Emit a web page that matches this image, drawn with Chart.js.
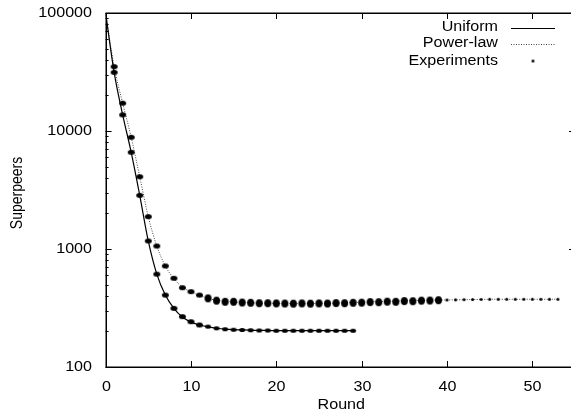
<!DOCTYPE html>
<html><head><meta charset="utf-8">
<script src="https://cdn.jsdelivr.net/npm/chart.js@4.4.1/dist/chart.umd.min.js"></script>
<style>html,body{margin:0;padding:0;overflow:hidden;background:#fff}#wrap{width:580px;height:416px;position:relative}</style>
</head><body><div id="wrap"><canvas id="c" width="580" height="416"></canvas></div>
<script>
// ---- data ----
const xTicks = [0, 10, 20, 30, 40, 50];
const yTicks = [100, 1000, 10000, 100000];
const seriesNames = ['Uniform', 'Power-law', 'Experiments'];
const xTitle = 'Round';
const yTitle = 'Superpeers';

// theoretical curves, rounds 0..N
const uniformModel = [100000, 31400, 13700, 6600, 2850, 1170, 612, 407, 314, 265, 240, 227, 219, 213, 209, 207, 206, 205, 204, 204, 203, 203, 203, 203, 203, 203, 203, 203, 203, 203];
const powerModel = [100000, 35100, 17200, 8850, 4100, 1880, 1059, 718, 560, 475, 435, 405, 382, 368, 360, 356, 352, 350, 348, 347, 346, 345, 344, 344, 345, 346, 347, 348, 350, 352, 354, 356, 358, 360, 362, 364, 366, 367, 368, 369, 370, 371, 372, 373, 374, 375, 375, 375, 375, 375, 375, 375, 375, 375];
// experiments, rounds 1..N
const uniformExp = [31400, 13700, 6600, 2850, 1169, 612, 407, 314, 267, 242, 227, 220, 213, 209, 207, 206, 205, 204, 204, 203, 203, 203, 203, 203, 203, 203, 203, 203, 203];
const powerExp = [35100, 17200, 8850, 4100, 1880, 1059, 718, 565, 470, 435, 407, 382, 365, 357, 357, 352, 350, 347, 347, 346, 345, 344, 346, 344, 346, 345, 348, 347, 350, 351, 355, 354, 358, 357, 362, 361, 365, 366, 368, 370, 371, 372, 373, 374, 375, 375, 375, 375, 375, 375, 375, 375, 375];

// ---- build ----
const pts = (arr, start) => arr.map((v, i) => ({x: i + start, y: v}));

function blob(w, h) {
  const c = document.createElement('canvas');
  c.width = w + 2; c.height = h + 2;
  const g = c.getContext('2d');
  g.fillStyle = '#000';
  g.beginPath();
  g.ellipse((w + 2) / 2, (h + 2) / 2, w / 2, h / 2, 0, 0, Math.PI * 2);
  g.fill();
  return c;
}
const blobU = blob(7, 5);
const blobS = blob(6, 4);
const blobP = blob(7, 8);
const dot = blob(3, 3);

const FONT = '14px "Liberation Sans", Arial, sans-serif';
const SX = 1.15;
function txt(ctx, s, x, y, align) {
  ctx.save();
  ctx.translate(x, y);
  ctx.scale(SX, 1);
  ctx.font = FONT;
  ctx.fillStyle = '#000';
  ctx.textAlign = align;
  ctx.textBaseline = 'middle';
  ctx.fillText(s, 0, 0);
  ctx.restore();
}
function seg(ctx, x1, y1, x2, y2) {
  ctx.beginPath(); ctx.moveTo(x1, y1); ctx.lineTo(x2, y2); ctx.stroke();
}

const frame = {
  id: 'frame',
  afterDraw(chart) {
    const {ctx, chartArea: a, scales: {x, y}} = chart;
    ctx.save();
    ctx.strokeStyle = '#000';
    ctx.lineWidth = 1;
    xTicks.forEach(v => {
      const px = Math.round(x.getPixelForValue(v)) + 0.5;
      seg(ctx, px, a.bottom, px, a.bottom - 6);
      seg(ctx, px, a.top, px, a.top + 6);
      txt(ctx, String(v), px, 387, 'center');
    });
    for (let d = 100; d < 100000; d *= 10) {
      for (let m = 2; m <= 9; m++) {
        const py = Math.round(y.getPixelForValue(m * d)) + 0.5;
        seg(ctx, a.left, py, a.left + 3, py);
        seg(ctx, a.right, py, a.right - 3, py);
      }
    }
    yTicks.forEach(v => {
      const py = y.getPixelForValue(v);
      const py2 = Math.round(py) + 0.5;
      seg(ctx, a.left, py2, a.left + 6, py2);
      seg(ctx, a.right, py2, a.right - 6, py2);
      txt(ctx, String(v), 92, py, 'right');
    });
    ctx.lineWidth = 1.5;
    ctx.strokeRect(Math.round(a.left) + 0.25, Math.round(a.top) + 0.25, Math.round(a.right - a.left), Math.round(a.bottom - a.top));
    txt(ctx, xTitle, (a.left + a.right) / 2 + 1, 405, 'center');
    ctx.save();
    ctx.translate(18, 193);
    ctx.scale(SX, 1);
    ctx.rotate(-Math.PI / 2);
    ctx.font = FONT; ctx.fillStyle = '#000';
    ctx.textAlign = 'center'; ctx.textBaseline = 'middle';
    ctx.fillText(yTitle, 0, 0);
    ctx.restore();
    const ly = [27.5, 43.5, 61];
    seriesNames.forEach((n, i) => txt(ctx, n, 498, ly[i], 'right'));
    ctx.lineWidth = 1;
    seg(ctx, 511, Math.round(ly[0]) + 0.5, 555, Math.round(ly[0]) + 0.5);
    ctx.strokeStyle = '#444';
    ctx.setLineDash([1, 1.5]);
    seg(ctx, 511, Math.round(ly[1]) + 0.5, 555, Math.round(ly[1]) + 0.5);
    ctx.setLineDash([]);
    ctx.drawImage(dot, 533 - dot.width / 2, ly[2] - dot.height / 2);
    ctx.restore();
  }
};

new Chart(document.getElementById('c'), {
  type: 'line',
  data: {
    datasets: [
      {label: seriesNames[0], data: pts(uniformModel, 0), borderColor: '#000', borderWidth: 1.2, pointRadius: 0, cubicInterpolationMode: 'monotone', fill: false, order: 2},
      {label: seriesNames[1], data: pts(powerModel, 0), borderColor: '#444', borderWidth: 1, borderDash: [1, 1.5], pointRadius: 0, cubicInterpolationMode: 'monotone', fill: false, order: 3},
      {label: seriesNames[2], data: pts(uniformExp, 1), showLine: false, pointRadius: 3, order: 1,
       pointStyle: c => (c.raw && c.raw.x >= 12) ? blobS : blobU},
      {label: seriesNames[2] + ' (power-law)', data: pts(powerExp, 1),
       showLine: false, pointRadius: 3, order: 1,
       pointStyle: c => (c.raw && c.raw.x >= 40) ? dot : (c.raw && c.raw.x >= 12 ? blobP : blobU)}
    ]
  },
  options: {
    responsive: false,
    animation: false,
    events: [],
    layout: {padding: {top: 13, right: 3.6, left: 0, bottom: 0}},
    plugins: {legend: {display: false}, tooltip: {enabled: false}},
    scales: {
      x: {
        type: 'linear', min: 0, max: 55,
        grid: {display: false, drawTicks: false},
        border: {display: false},
        ticks: {display: false},
        afterFit: s => { s.height = 49; }
      },
      y: {
        type: 'logarithmic', min: 100, max: 100000,
        grid: {display: false, drawTicks: false},
        border: {display: false},
        ticks: {display: false},
        afterFit: s => { s.width = 105.6; }
      }
    }
  },
  plugins: [frame]
});
</script>
</body></html>
